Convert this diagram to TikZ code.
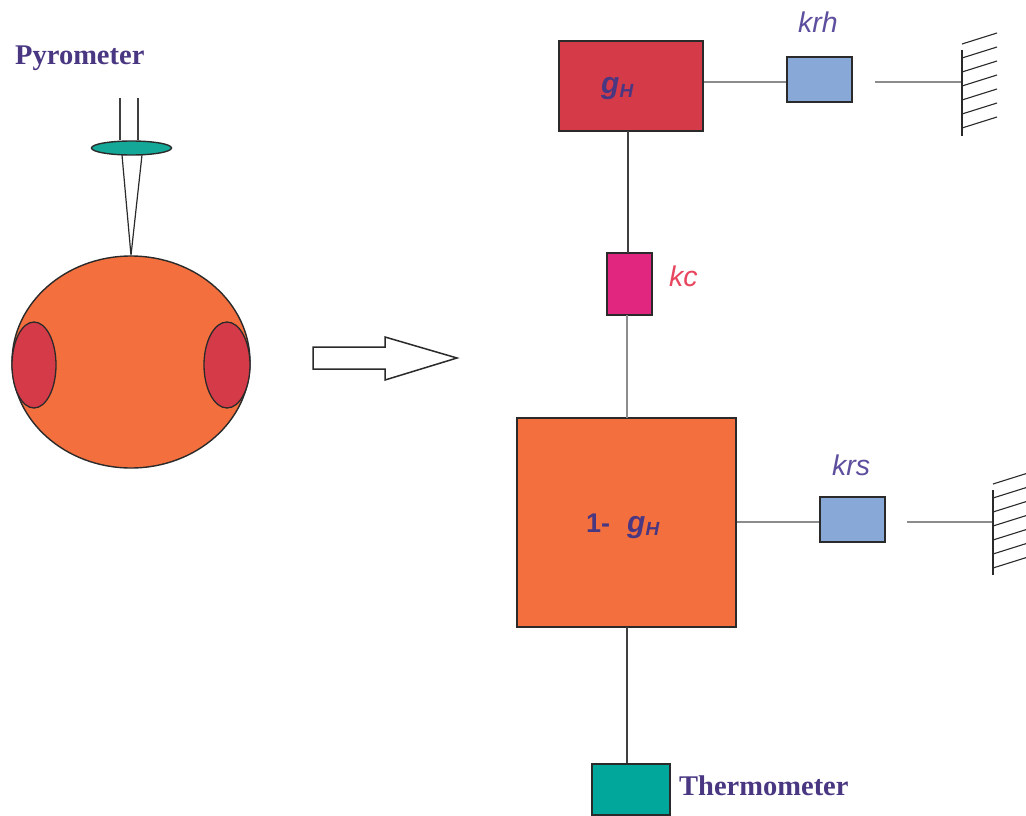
\documentclass[tikz,border=0pt]{standalone}
\usepackage{fontspec}
\setmainfont{Liberation Serif}
\setsansfont{Liberation Sans}
\usetikzlibrary{shapes.geometric}
\definecolor{sphereorange}{HTML}{F3703E}
\definecolor{hotred}{HTML}{D53A48}
\definecolor{lensteal}{HTML}{14A898}
\definecolor{thermteal}{HTML}{00A79A}
\definecolor{kcpink}{HTML}{E0267E}
\definecolor{kblue}{HTML}{88A9D8}
\definecolor{labelpurple}{HTML}{4A3782}
\definecolor{kpurple}{HTML}{5E4E9E}
\definecolor{kcred}{HTML}{E8465E}
\definecolor{edge}{HTML}{2A2A2A}
\tikzset{
  block/.style={draw=edge, line width=1.6pt, inner sep=0pt, rectangle},
  darklink/.style={draw=edge!90, line width=1.6pt},
  greylink/.style={draw=black!45, line width=1.8pt},
  title/.style={font=\fontsize{28.5}{31}\selectfont\bfseries, text=labelpurple, inner sep=0pt},
  klabel/.style={font=\sffamily\itshape\fontsize{28.5}{30}\selectfont, inner sep=0pt},
  wall/.style={draw=edge, line width=1.4pt},
}
\newcommand{\gHsym}{{\sffamily\bfseries\itshape\fontsize{30}{32}\selectfont g}{\sffamily\bfseries\itshape\fontsize{19}{20}\selectfont\raisebox{-3pt}{H}}}
\begin{document}
\begin{tikzpicture}[x=1pt,y=-1pt]
\useasboundingbox (0,0) rectangle (1026,816);
\fill[white] (0,0) rectangle (1026,816);

% --- pyrometer and heated sphere ---
\node[title, anchor=base west] (pyro) at (15,65) {Pyrometer};
\coordinate (tubeL) at (120,98);
\coordinate (tubeR) at (138,98);
\node[ellipse, draw=edge, line width=1.4pt, fill=lensteal, minimum width=80pt, minimum height=14pt, inner sep=0pt] (lens) at (131.5,148) {};
\draw[darklink, line width=1.3pt] (tubeL) -- (tubeL |- lens.north);
\draw[darklink, line width=1.3pt] (tubeR) -- (tubeR |- lens.north);
\node[ellipse, draw=edge, line width=1.4pt, fill=sphereorange, minimum width=238pt, minimum height=212pt, inner sep=0pt] (sphere) at (131,362) {};
\draw[edge, line width=1.2pt] (122,155) -- (sphere.north) -- (142,155);
\node[ellipse, draw=edge, line width=1.3pt, fill=hotred, minimum width=44pt, minimum height=86pt, inner sep=0pt] (spotL) at (34,365) {};
\node[ellipse, draw=edge, line width=1.3pt, fill=hotred, minimum width=46pt, minimum height=86pt, inner sep=0pt] (spotR) at (227,365) {};

% --- hollow arrow ---
\draw[edge, line width=1.5pt, fill=white]
  (313,347) -- (385,347) -- (385,337) -- (457,358) -- (385,380) -- (385,369) -- (313,369) -- cycle;

% --- thermal network ---
\node[block, fill=hotred, minimum width=144pt, minimum height=90pt] (gH) at (631,86) {};
\node[anchor=base west, inner sep=0pt, text=labelpurple] (gHlab) at (601,94) {\gHsym};
\node[block, fill=kblue, minimum width=65pt, minimum height=45pt] (krh) at (819.5,79.5) {};
\node[klabel, text=kpurple, anchor=base west] (krhlab) at (798,33) {krh};
\node[block, fill=kcpink, minimum width=45pt, minimum height=62pt] (kc) at (629.5,284) {};
\node[klabel, text=kcred, anchor=base west] (kclab) at (669,286) {kc};
\node[block, fill=sphereorange, minimum width=219pt, minimum height=209pt] (body) at (626.5,522.5) {};
\node[anchor=base west, inner sep=0pt, text=labelpurple] (bodylab) at (586,532)
  {{\sffamily\bfseries\fontsize{27}{30}\selectfont 1-\hspace{17pt}}\gHsym};
\node[block, fill=kblue, minimum width=65pt, minimum height=45pt] (krs) at (852.5,519.5) {};
\node[klabel, text=kpurple, anchor=base west] (krslab) at (832,475) {krs};
\node[block, fill=thermteal, minimum width=78pt, minimum height=51pt] (therm) at (631,789.5) {};
\node[title, anchor=base west] (thermlab) at (679,795) {Thermometer};

% free ends at the walls
\coordinate (wallA) at (962,82);
\coordinate (gapA) at (875,82);
\coordinate (wallB) at (993,522);
\coordinate (gapB) at (907,522);

% links
\draw[greylink] (gH.east |- wallA) -- (krh.west |- wallA);
\draw[greylink] (gapA) -- (wallA);
\draw[darklink] (628,131) -- (628,253);
\draw[greylink] (627,315) -- (627,418);
\draw[greylink] (body.east |- wallB) -- (krs.west |- wallB);
\draw[greylink] (gapB) -- (wallB);
\draw[darklink] (627,627) -- (therm.north -| 627,0);

% hatched walls
\draw[wall] (962,50) -- (962,136);
\foreach \y in {44,58,72,86,100,114,128}
  \draw[edge, line width=1.1pt] (962,\y) -- (997,\y-11);
\draw[wall] (993,490) -- (993,575);
\foreach \y in {484,498,512,526,540,554,568}
  \draw[edge, line width=1.1pt] (993,\y) -- (1028,\y-11);
\end{tikzpicture}
\end{document}
